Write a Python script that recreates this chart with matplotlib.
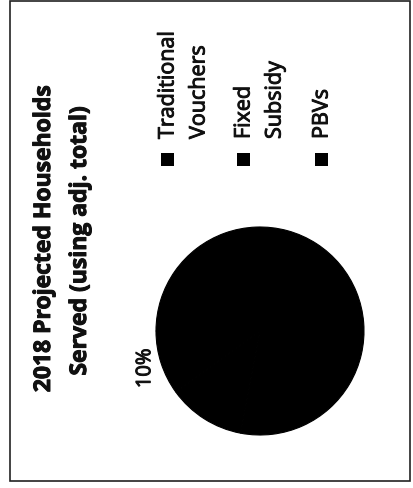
import matplotlib
matplotlib.use("Agg")
import matplotlib.pyplot as plt
from matplotlib.patches import Rectangle
import matplotlib.patheffects as pe

title_lines = ["2018 Projected Households", "Served (using adj. total)"]
categories = ["Traditional\nVouchers", "Fixed\nSubsidy", "PBVs"]
values = [78, 12, 10]
colors = ["#000000", "#000000", "#000000"]

FONT = "Open Sans"
W, H = 414, 489
thick = [pe.withStroke(linewidth=0.7, foreground="#111111")]
fig = plt.figure(figsize=(W / 100, H / 100), dpi=100)
ax = fig.add_axes([0, 0, 1, 1])

# pie (rotated chart: starts at 9 o'clock, clockwise)
total = sum(values)
labels = [f"{round(v * 100 / total)}%" if v * 100 / total <= 10 else "" for v in values]
wedges, texts = ax.pie(values, colors=colors, startangle=180, counterclock=False,
                       center=(260, H - 332), radius=104,
                       labels=labels, labeldistance=1.16, frame=True,
                       textprops=dict(rotation=90, fontsize=14.5, family=FONT, color="#111111",
                                      ha="center", va="center", path_effects=thick),
                       wedgeprops=dict(linewidth=0.8, edgecolor="#000000"))
ax.set_xlim(0, W)
ax.set_ylim(0, H)
ax.axis("off")

# outer border
ax.add_patch(Rectangle((10, H - 482), 400, 480, fill=False, lw=1.2, ec="#222222"))

# title (rotated)
fig.text(44 / W, 1 - 240 / H, title_lines[0], rotation=90, ha="center", va="center",
         fontsize=16.5, fontweight="bold", family=FONT, color="#111111", path_effects=thick)
fig.text(80 / W, 1 - 242 / H, title_lines[1], rotation=90, ha="center", va="center",
         fontsize=16.5, fontweight="bold", family=FONT, color="#111111", path_effects=thick)

# legend (rotated)
leg_x = [168, 244, 322]
line_gap = 31
for x, lab, col in zip(leg_x, categories, colors):
    ax.add_patch(Rectangle((x - 6.5, H - 167), 13, 13, color=col, lw=0))
    for i, line in enumerate(lab.split("\n")):
        fig.text((x + i * line_gap) / W, 1 - 140 / H, line, rotation=90,
                 ha="center", va="bottom", fontsize=15.5, family=FONT, color="#111111",
                 path_effects=thick)

fig.savefig("out.png", dpi=100)
